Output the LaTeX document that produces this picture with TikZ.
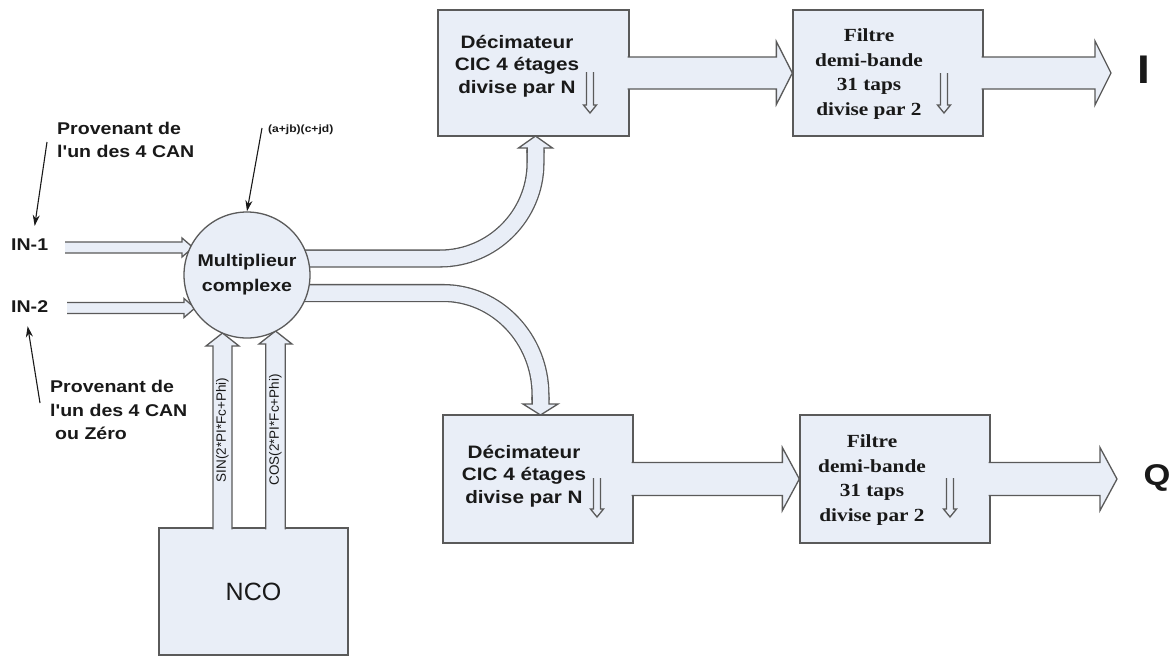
\documentclass[tikz,border=0pt]{standalone}
\usepackage{fontspec}
\usetikzlibrary{arrows.meta,calc}
\newfontfamily\sfs[FakeStretch=1.15]{Liberation Sans}
\newfontfamily\srs[FakeStretch=1.15]{Liberation Serif}
\newfontfamily\sfn{Liberation Sans}
\definecolor{boxfill}{RGB}{233,238,247}
\definecolor{edge}{RGB}{90,90,90}
\definecolor{ink}{RGB}{25,25,25}
\pgfdeclarelayer{back}
\pgfdeclarelayer{bg}
\pgfsetlayers{back,bg,main}
% horizontal block arrow: from #1 to tip #2, body half #3, head half #4, head length #5
\newcommand\hblk[5]{\path[blk] let \p1=(#1), \p2=(#2) in (\x1,\y2+#3pt) -- (\x2-#5pt,\y2+#3pt) -- (\x2-#5pt,\y2+#4pt) -- (\x2,\y2) -- (\x2-#5pt,\y2-#4pt) -- (\x2-#5pt,\y2-#3pt) -- (\x1,\y2-#3pt);}
% upward block arrow
\newcommand\ublk[5]{\path[blk] let \p1=(#1), \p2=(#2) in (\x2-#3pt,\y1) -- (\x2-#3pt,\y2-#5pt) -- (\x2-#4pt,\y2-#5pt) -- (\x2,\y2) -- (\x2+#4pt,\y2-#5pt) -- (\x2+#3pt,\y2-#5pt) -- (\x2+#3pt,\y1);}
% downward block arrow
\newcommand\dblk[5]{\path[blk] let \p1=(#1), \p2=(#2) in (\x2-#3pt,\y1) -- (\x2-#3pt,\y2+#5pt) -- (\x2-#4pt,\y2+#5pt) -- (\x2,\y2) -- (\x2+#4pt,\y2+#5pt) -- (\x2+#3pt,\y2+#5pt) -- (\x2+#3pt,\y1);}
\begin{document}
\begin{tikzpicture}[x=1pt,y=-1pt,
 blk/.style={draw=edge, fill=boxfill, line width=1.3pt, line join=miter},
 boxn/.style={blk, rectangle, inner sep=0pt},
 dbl/.style={draw=edge, line width=1.3pt, double=boxfill, double distance=15.5pt},
 annot/.style={draw=ink, line width=1.1pt, -{Stealth[length=11pt,width=7pt]}},
 dtxt/.style={font={\sfs\bfseries\fontsize{18}{22.5}\selectfont}, align=center, text=ink, inner sep=0pt},
 ftxt/.style={font={\srs\bfseries\fontsize{18.5}{24.5}\selectfont}, align=center, text=ink, inner sep=0pt},
 atxt/.style={font={\sfs\bfseries\fontsize{17}{23.5}\selectfont}, align=left, text=ink, inner sep=0pt, anchor=west},
 rtxt/.style={rotate=90, font={\sfn\fontsize{13.5}{13.5}\selectfont}, text=ink, inner sep=0pt},
]
\begin{pgfonlayer}{back}
\fill[white] (0,0) rectangle (1176,657);
\end{pgfonlayer}
\useasboundingbox (0,0) rectangle (1176,657);

% boxes
\node[boxn, minimum width=191pt, minimum height=126pt] (dec1) at (533.5,73) {};
\node[boxn, minimum width=190pt, minimum height=126pt] (fil1) at (888,73) {};
\node[boxn, minimum width=190pt, minimum height=128pt] (dec2) at (538,479) {};
\node[boxn, minimum width=190pt, minimum height=128pt] (fil2) at (895,479) {};
\node[blk, circle, minimum size=126pt, inner sep=0pt, align=center, text=ink,
      font={\sfs\bfseries\fontsize{17}{25}\selectfont}] (mult) at (247,275) {Multiplieur\\complexe};

\begin{pgfonlayer}{bg}
 \node[boxn, minimum width=189pt, minimum height=127pt, text=ink,
       font={\sfn\fontsize{25}{25}\selectfont}] (nco) at (253.5,591.5) {NCO};
 \ublk{[yshift=-2pt]nco.north}{222.5,333}{9.5}{16.5}{13}
 \ublk{[yshift=-2pt]nco.north}{275.5,331}{9.75}{16.5}{13}
 \hblk{65,247.5}{193,247.5}{5.5}{9.5}{11}
 \hblk{67,308}{195,308}{5.5}{9.5}{11}
 \draw[dbl] ([yshift=16.5pt]mult.center) -- (440,258.5) .. controls (492.5,258.5) and (535.5,215.5) .. (535.5,163) -- (535.5,150);
 \draw[dbl] ([yshift=-18pt]mult.center) -- (443,293) .. controls (497,293) and (540.5,339) .. (540.5,395) -- (540.5,400);
\end{pgfonlayer}

\node[rtxt] (sint) at (222.5,430) {SIN(2*PI*Fc+Phi)};
\node[rtxt] (cost) at (275.5,430) {COS(2*PI*Fc+Phi)};

% block arrows between boxes
\hblk{[xshift=-2pt]dec1.east}{fil1.west}{16}{31.5}{16}
\coordinate (outI) at (1111,73);
\hblk{[xshift=-2pt]fil1.east}{outI}{16}{32}{16}
\hblk{[xshift=-2pt]dec2.east}{fil2.west}{16.5}{31.5}{17}
\coordinate (outQ) at (1117,479);
\hblk{[xshift=-2pt]fil2.east}{outQ}{16.5}{31.5}{17}
% heads of curved arrows
\ublk{535.5,153}{535.5,136}{8.4}{17}{12}
\dblk{540.5,397}{540.5,415}{8.4}{17.5}{11}
% small decimation arrows
\dblk{590,72}{590,113}{3.5}{6.5}{8}
\dblk{944,73}{944,113}{3.5}{6.5}{8}
\dblk{597,478}{597,517}{3.5}{6.5}{8}
\dblk{950,478}{950,517}{3.5}{6.5}{8}

% texts
\node[dtxt] (dec1t) at (517,66) {Décimateur\\CIC 4 étages\\divise par N};
\node[dtxt] (dec2t) at (524,476) {Décimateur\\CIC 4 étages\\divise par N};
\node[ftxt] (fil1t) at (869,74) {Filtre\\demi-bande\\31 taps\\divise par 2};
\node[ftxt] (fil2t) at (872,480) {Filtre\\demi-bande\\31 taps\\divise par 2};
\node[font={\sfs\bfseries\fontsize{40}{40}\selectfont}, text=ink, inner sep=0pt] (I) at (1144,70) {I};
\node[font={\sfs\bfseries\fontsize{30}{30}\selectfont}, text=ink, inner sep=0pt] (Q) at (1157,478) {Q};

% annotations
\node[atxt] (in1) at (11,245) {IN-1};
\node[atxt] (in2) at (11,307) {IN-2};
\node[atxt] (prov1) at (57,140) {Provenant de\\l'un des 4 CAN};
\node[atxt] (prov2) at (50,410) {Provenant de\\l'un des 4 CAN\\\hspace*{5pt}ou Zéro};
\node[font={\sfs\bfseries\fontsize{10.5}{10.5}\selectfont}, text=ink, inner sep=0pt, anchor=west] (cplx) at (268,130) {(a+jb)(c+jd)};
\coordinate (p1s) at (47,142);
\coordinate (p2s) at (40,403);
\coordinate (p3s) at (262,128);
\draw[annot] (p1s) -- ([xshift=5pt,yshift=13pt]in1.north);
\draw[annot] (p2s) -- ([xshift=-2pt,yshift=-13pt]in2.south);
\draw[annot] (p3s) -- (mult.north);
\end{tikzpicture}
\end{document}
